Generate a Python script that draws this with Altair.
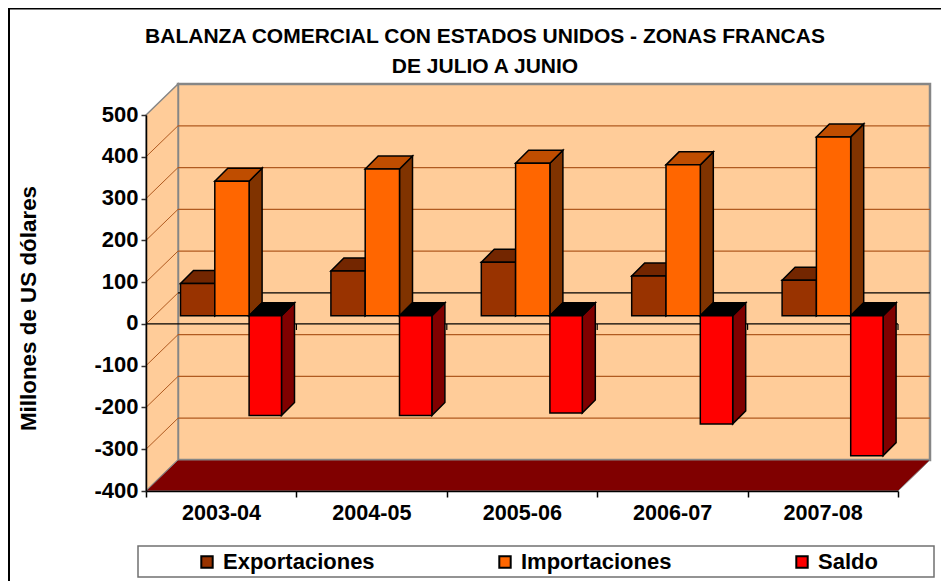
import json
import altair as alt

categories = ["2003-04", "2004-05", "2005-06", "2006-07", "2007-08"]
exportaciones = [77, 107, 128, 95, 85]
importaciones = [322, 351, 365, 361, 428]
saldo = [-239, -239, -233, -259, -335]
y_ticks = [-400, -300, -200, -100, 0, 100, 200, 300, 400, 500]
grid_levels = [-300, -200, -100, 100, 200, 300, 400]
title_lines = ["BALANZA COMERCIAL CON ESTADOS UNIDOS - ZONAS FRANCAS", "DE JULIO A JUNIO"]

FONT = "Liberation Sans"
W, H = 752, 376
PX_X = 5 / W        # category units per pixel
PX_Y = 900 / H      # value units per pixel
WALL_DX, WALL_DY = 32 * PX_X, 31 * PX_Y
BAR_DX, BAR_DY = 13 * PX_X, 13 * PX_Y
BASE = 8.2 * PX_Y
EDGES = [e * PX_X for e in (34.5, 68.8, 103.1, 135.5)]

xs = alt.Scale(domain=[0, 5], nice=False, zero=False)
ys = alt.Scale(domain=[-400, 500], nice=False, zero=False)

x_axis = alt.Axis(values=list(range(6)), grid=False, title=None, zindex=1,
                  domainColor="black", domainWidth=1.5, tickColor="black", tickWidth=1.5,
                  tickSize=6, labelFont=FONT, labelFontWeight="bold", labelFontSize=21.6,
                  labelColor="black", labelPadding=5, labelOffset=75, labelAlign="center",
                  labelFlush=False, labelOverlap=False, labelBound=False,
                  labelExpr=f"{json.dumps(categories)}[datum.value] || ''")
y_axis = alt.Axis(values=y_ticks, grid=False, zindex=1, title="Millones de US dólares",
                  domainColor="black", domainWidth=1.5, tickColor="#333333", tickWidth=1.5,
                  tickSize=5, labelFont=FONT, labelFontWeight="bold", labelFontSize=22,
                  labelColor="black", labelPadding=3, labelOffset=-1, labelFlush=False,
                  labelOverlap=False, labelBound=False, labelExpr="'' + datum.value",
                  titleFont=FONT, titleFontWeight="bold", titleFontSize=22.4,
                  titleColor="black", titleAngle=270, titleX=-118, titleY=193,
                  titleAlign="center", titleBaseline="middle")


def X(f="x"):
    return alt.X(f"{f}:Q", scale=xs, axis=x_axis)


def Y(f="y"):
    return alt.Y(f"{f}:Q", scale=ys, axis=y_axis)


def df(rows, cols):
    return alt.Data(values=[dict(zip(cols, r)) for r in rows])


# walls -------------------------------------------------------------------
back_wall = alt.Chart(df([(WALL_DX, 5 + WALL_DX, -400 + WALL_DY, 500 + WALL_DY)],
                         ["x", "x2", "y", "y2"])).mark_rect(
    fill="#FFCC99", stroke="#868686", strokeWidth=2.5).encode(
    x=X(), x2="x2:Q", y=Y(), y2="y2:Q")

left_wall = alt.Chart(df([(0, -400, 500), (WALL_DX, -400 + WALL_DY, 500 + WALL_DY)],
                         ["x", "y", "y2"])).mark_area(
    fill="#FFCC99", stroke="#868686", strokeWidth=1.5, orient="vertical").encode(
    x=X(), y=Y(), y2="y2:Q")

floor = alt.Chart(df([(0, -400, -400), (WALL_DX, -400, -400 + WALL_DY),
                      (5, -400, -400 + WALL_DY), (5 + WALL_DX, -400 + WALL_DY, -400 + WALL_DY)],
                     ["x", "y", "y2"])).mark_area(
    fill="#800000", stroke="#868686", strokeWidth=1, orient="vertical").encode(
    x=X(), y=Y(), y2="y2:Q")

grid_back = alt.Chart(df([(WALL_DX, 5 + WALL_DX, v + WALL_DY) for v in grid_levels],
                         ["x", "x2", "y"])).mark_rule(
    color="#B05A20", strokeWidth=1.2).encode(x=X(), x2="x2:Q", y=Y())
grid_zero = alt.Chart(df([(WALL_DX, 5 + WALL_DX, WALL_DY)], ["x", "x2", "y"])).mark_rule(
    color="black", strokeWidth=1.2).encode(x=X(), x2="x2:Q", y=Y())
grid_left = alt.Chart(df([(0, WALL_DX, v, v + WALL_DY) for v in grid_levels + [0]],
                         ["x", "x2", "y", "y2"])).mark_rule(
    color="#B05A20", strokeWidth=1).encode(x=X(), x2="x2:Q", y=Y(), y2="y2:Q")

zero_line = alt.Chart(df([(0, 5, 0)], ["x", "x2", "y"])).mark_rule(
    color="black", strokeWidth=1.2).encode(x=X(), x2="x2:Q", y=Y())
zero_ticks = alt.Chart(df([(i, 0, -6 * PX_Y) for i in range(1, 6)], ["x", "y", "y2"])).mark_rule(
    color="black", strokeWidth=1.2).encode(x=X(), y=Y(), y2="y2:Q")


# bars --------------------------------------------------------------------
color_scale = alt.Scale(domain=["Exportaciones", "Importaciones", "Saldo"],
                        range=["#993300", "#FF6600", "#FF0000"])
legend = alt.Legend(title=None, orient="none", legendX=50, legendY=436, columns=3,
                    direction="horizontal", columnPadding=119, symbolType="square",
                    symbolSize=130, symbolStrokeColor="black", symbolStrokeWidth=2,
                    symbolOpacity=1, labelFont=FONT, labelFontWeight="bold", labelFontSize=22,
                    labelColor="black", labelOffset=5, labelLimit=300, padding=0)


def series_layers(name, values, slot, top_color, side_color):
    l, r = EDGES[slot], EDGES[slot + 1]
    side, top, front = [], [], []
    for i, v in enumerate(values):
        hi, lo = max(v, 0) + BASE, min(v, 0) + BASE
        side += [(i, i + r, lo, hi), (i, i + r + BAR_DX, lo + BAR_DY, hi + BAR_DY)]
        top += [(i, i + l, hi, hi), (i, i + l + BAR_DX, hi, hi + BAR_DY),
                (i, i + r, hi, hi + BAR_DY), (i, i + r + BAR_DX, hi + BAR_DY, hi + BAR_DY)]
        front.append((i, i + l, i + r, lo, hi, name))
    stroke = dict(stroke="black", strokeWidth=1.5)
    return [
        alt.Chart(df(side, ["c", "x", "y", "y2"])).mark_area(
            fill=side_color, orient="vertical", **stroke).encode(
            x=X(), y=Y(), y2="y2:Q", detail="c:N"),
        alt.Chart(df(top, ["c", "x", "y", "y2"])).mark_area(
            fill=top_color, orient="vertical", **stroke).encode(
            x=X(), y=Y(), y2="y2:Q", detail="c:N"),
        alt.Chart(df(front, ["c", "x", "x2", "y", "y2", "s"])).mark_rect(**stroke).encode(
            x=X(), x2="x2:Q", y=Y(), y2="y2:Q",
            color=alt.Color("s:N", scale=color_scale, legend=legend)),
    ]


legend_box = alt.Chart(df([(0,)], ["a"])).mark_rect(
    fill="white", stroke="#707070", strokeWidth=1.5).encode(
    x=alt.value(-8), x2=alt.value(788), y=alt.value(431), y2=alt.value(462))

border_top = alt.Chart(df([(0,)], ["a"])).mark_rule(color="black", strokeWidth=2).encode(
    x=alt.value(-138), x2=alt.value(795), y=alt.value(-106.5))
border_left = alt.Chart(df([(0,)], ["a"])).mark_rule(color="black", strokeWidth=2).encode(
    x=alt.value(-137), y=alt.value(-107), y2=alt.value(466))

title_1 = alt.Chart(df([(title_lines[0],)], ["t"])).mark_text(
    font=FONT, fontWeight="bold", fontSize=21, color="black", align="center",
    baseline="middle").encode(text="t:N", x=alt.value(339), y=alt.value(-78))
title_2 = alt.Chart(df([(title_lines[1],)], ["t"])).mark_text(
    font=FONT, fontWeight="bold", fontSize=21, color="black", align="center",
    baseline="middle").encode(text="t:N", x=alt.value(339), y=alt.value(-48))

layers = [border_top, border_left, title_1, title_2, legend_box, back_wall, left_wall, floor,
          grid_back, grid_zero, grid_left, zero_line, zero_ticks]
layers += series_layers("Exportaciones", exportaciones, 0, "#732600", "#4D1A00")
layers += series_layers("Importaciones", importaciones, 1, "#BF4D00", "#803300")
layers += series_layers("Saldo", saldo, 2, "#000000", "#800000")

chart = alt.layer(*layers).properties(
    width=W, height=H,
    padding={"left": 138, "top": 107, "right": 43, "bottom": 90},
    autosize=alt.AutoSizeParams(type="none"),
    background="white",
).configure_view(stroke=None)

chart.save("out.html", embed_options={"renderer": "svg", "actions": False})
